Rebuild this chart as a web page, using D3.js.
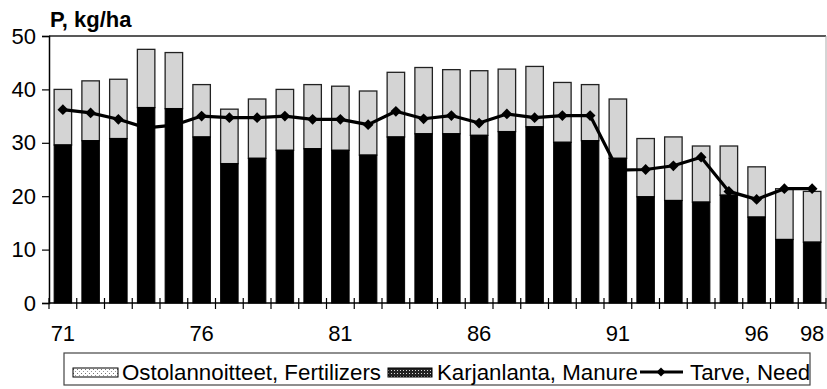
<!DOCTYPE html>
<html>
<head>
<meta charset="utf-8">
<script src="https://cdn.jsdelivr.net/npm/d3@7"></script>
<style>
  html, body { margin: 0; padding: 0; background: #fff; }
  svg { display: block; font-family: "Liberation Sans", Arial, sans-serif; }
</style>
</head>
<body>
<svg id="chart" width="827" height="389"></svg>
<script>
// Phosphorus use per hectare, 1971–1998
const years = ["71","72","73","74","75","76","77","78","79","80","81","82","83","84",
               "85","86","87","88","89","90","91","92","93","94","95","96","97","98"];
const manure = [29.6, 30.4, 30.8, 36.6, 36.4, 31.1, 26.1, 27.1, 28.6, 28.9, 28.6, 27.7, 31.1, 31.7,
                31.7, 31.4, 32.1, 33.0, 30.1, 30.4, 27.1, 19.9, 19.2, 18.9, 20.2, 16.1, 11.9, 11.4];
const fertilizers = [10.4, 11.2, 11.1, 10.9, 10.5, 9.8, 10.2, 11.1, 11.4, 12.0, 12.0, 12.0, 12.1, 12.4,
                     12.0, 12.1, 11.7, 11.3, 11.2, 10.5, 11.1, 10.9, 11.9, 10.5, 9.2, 9.4, 9.5, 9.5];
const need = [36.2, 35.6, 34.4, 32.8, 33.3, 35.0, 34.7, 34.7, 35.0, 34.4, 34.4, 33.4, 35.9, 34.5,
              35.1, 33.7, 35.4, 34.7, 35.1, 35.1, 24.9, 25.0, 25.7, 27.3, 20.9, 19.4, 21.4, 21.4];
const yTicks = [0, 10, 20, 30, 40, 50];
const xLabels = ["71", "76", "81", "86", "91", "96", "98"];
const yTitle = "P, kg/ha";
const legendNames = ["Ostolannoitteet, Fertilizers", "Karjanlanta, Manure", "Tarve, Need"];

const svg = d3.select("#chart");
const plotL = 49, plotR = 826, plotT = 36, plotB = 303;

const x = d3.scaleBand().domain(years).range([plotL, plotR])
  .paddingInner(0.37).paddingOuter(0.185);
const y = d3.scaleLinear().domain([0, 50]).range([plotB, plotT]);

// patterns for the legend swatches
const defs = svg.append("defs");
const pf = defs.append("pattern").attr("id", "dotsLight").attr("patternUnits", "userSpaceOnUse")
  .attr("width", 4).attr("height", 4);
pf.append("rect").attr("width", 4).attr("height", 4).attr("fill", "#fff");
pf.append("rect").attr("x", 1).attr("y", 1).attr("width", 1).attr("height", 1).attr("fill", "#777");
pf.append("rect").attr("x", 3).attr("y", 3).attr("width", 1).attr("height", 1).attr("fill", "#999");
const pm = defs.append("pattern").attr("id", "dotsDark").attr("patternUnits", "userSpaceOnUse")
  .attr("width", 3).attr("height", 3);
pm.append("rect").attr("width", 3).attr("height", 3).attr("fill", "#222");
pm.append("rect").attr("x", 1).attr("y", 1).attr("width", 1).attr("height", 1).attr("fill", "#ddd");

// plot frame
svg.append("line").attr("x1", plotL).attr("x2", plotR).attr("y1", plotT).attr("y2", plotT)
  .attr("stroke", "#222").attr("stroke-width", 1.5);
svg.append("line").attr("x1", plotR).attr("x2", plotR).attr("y1", plotT).attr("y2", plotB)
  .attr("stroke", "#aaa").attr("stroke-width", 1);

// stacked bars
const bars = svg.append("g");
years.forEach((yr, i) => {
  const bx = x(yr), bw = x.bandwidth();
  bars.append("rect")
    .attr("x", bx).attr("width", bw)
    .attr("y", y(manure[i] + fertilizers[i]))
    .attr("height", y(manure[i]) - y(manure[i] + fertilizers[i]))
    .attr("fill", "#d4d4d4").attr("stroke", "#222").attr("stroke-width", 1.3);
  bars.append("rect")
    .attr("x", bx).attr("width", bw)
    .attr("y", y(manure[i]))
    .attr("height", y(0) - y(manure[i]))
    .attr("fill", "#000").attr("stroke", "#000").attr("stroke-width", 1);
});

// need line with diamond markers (squares turned 45°)
const cx = d => x(d) + x.bandwidth() / 2;
const line = d3.line().x((d, i) => cx(years[i])).y(d => y(d));
svg.append("path").datum(need).attr("d", line)
  .attr("fill", "none").attr("stroke", "#000").attr("stroke-width", 3.2)
  .attr("stroke-linejoin", "round");
const marker = d3.symbol().type(d3.symbolSquare).size(58);
svg.append("g").selectAll("path").data(need).join("path")
  .attr("d", marker)
  .attr("transform", (d, i) => `translate(${cx(years[i])},${y(d)}) rotate(45)`)
  .attr("fill", "#000");

// y axis
const yAxis = svg.append("g").attr("transform", `translate(${plotL},0)`)
  .call(d3.axisLeft(y).tickValues(yTicks).tickSize(7).tickPadding(6).tickFormat(d3.format("d")));
yAxis.select(".domain").attr("stroke", "#000").attr("stroke-width", 1.5);
yAxis.selectAll(".tick line").attr("stroke", "#000").attr("stroke-width", 1.2);
yAxis.selectAll(".tick text").attr("font-size", 22).attr("fill", "#000")
  .attr("font-family", "Liberation Sans, Arial, sans-serif");

// x axis: baseline, category-boundary ticks crossing it, labels every fifth year
const xg = svg.append("g");
xg.append("line").attr("x1", plotL).attr("x2", plotR).attr("y1", plotB).attr("y2", plotB)
  .attr("stroke", "#000").attr("stroke-width", 1.5);
const half = x.step() * x.paddingOuter();
const bounds = years.map(d => x(d) - half).concat([x(years[years.length - 1]) - half + x.step()]);
xg.selectAll("line.tk").data(bounds).join("line").attr("class", "tk")
  .attr("x1", d => d).attr("x2", d => d).attr("y1", plotB - 5).attr("y2", plotB + 6)
  .attr("stroke", "#000").attr("stroke-width", 1.2);
xg.selectAll("text").data(xLabels).join("text")
  .attr("x", d => cx(d)).attr("y", 341)
  .attr("text-anchor", "middle").attr("font-size", 22).attr("fill", "#000")
  .text(d => d);

// axis title
svg.append("text").attr("x", 50).attr("y", 27)
  .attr("font-size", 22).attr("font-weight", "bold").attr("fill", "#000")
  .text(yTitle);

// legend
const lg = svg.append("g");
lg.append("rect").attr("x", 64).attr("y", 353).attr("width", 746).attr("height", 32)
  .attr("fill", "#fff").attr("stroke", "#444").attr("stroke-width", 1.2);
lg.append("rect").attr("x", 73).attr("y", 368).attr("width", 45).attr("height", 9)
  .attr("fill", "url(#dotsLight)").attr("stroke", "#000").attr("stroke-width", 1);
lg.append("text").attr("x", 122).attr("y", 380).attr("font-size", 22.3).attr("fill", "#000")
  .text(legendNames[0]);
lg.append("rect").attr("x", 388).attr("y", 368).attr("width", 44).attr("height", 9)
  .attr("fill", "url(#dotsDark)").attr("stroke", "#000").attr("stroke-width", 1);
lg.append("text").attr("x", 437).attr("y", 380).attr("font-size", 22.3).attr("fill", "#000")
  .text(legendNames[1]);
lg.append("line").attr("x1", 640).attr("x2", 683).attr("y1", 372).attr("y2", 372)
  .attr("stroke", "#000").attr("stroke-width", 3.2);
lg.append("path").attr("d", d3.symbol().type(d3.symbolSquare).size(40))
  .attr("transform", "translate(661,372) rotate(45)").attr("fill", "#000");
lg.append("text").attr("x", 690).attr("y", 380).attr("font-size", 22.3).attr("fill", "#000")
  .text(legendNames[2]);
</script>
</body>
</html>
